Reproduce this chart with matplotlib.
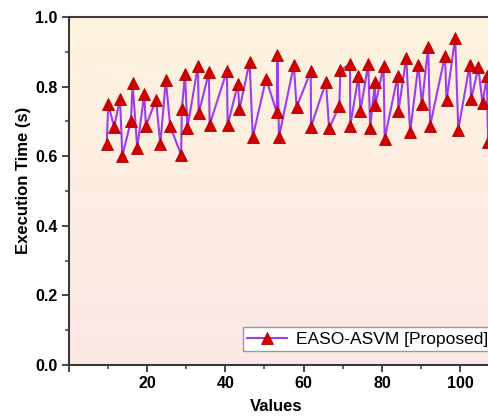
import numpy as np
import matplotlib
matplotlib.use('Agg')
import matplotlib.pyplot as plt
from matplotlib.colors import LinearSegmentedColormap
from matplotlib.ticker import MultipleLocator, FuncFormatter

# Execution time of EASO-ASVM for each tested value.
values = [9.7, 10.1, 11.6, 13.1, 13.7, 15.9, 16.3, 17.5, 19.3, 19.7,
          22.3, 23.4, 24.8, 25.9, 28.7, 28.9, 29.7, 30.3, 33.0, 33.2,
          35.8, 36.0, 40.4, 40.6, 43.2, 43.6, 46.2, 47.0, 50.4, 53.1,
          53.3, 53.7, 57.5, 58.2, 61.8, 61.9, 65.7, 66.5, 69.1, 69.4,
          71.85, 71.9, 74.0, 74.5, 76.5, 77.0, 78.2, 78.3, 80.4, 80.7,
          84.0, 84.2, 86.2, 87.2, 89.3, 90.2, 91.8, 92.3, 96.1, 96.5,
          98.7, 99.5, 102.4, 102.8, 104.6, 105.7, 106.8, 107.1]
exec_time = [0.634, 0.749, 0.684, 0.764, 0.602, 0.701, 0.809, 0.625, 0.778, 0.687,
             0.762, 0.634, 0.820, 0.687, 0.604, 0.735, 0.837, 0.680, 0.860, 0.723,
             0.841, 0.691, 0.845, 0.689, 0.808, 0.735, 0.871, 0.655, 0.823, 0.727,
             0.890, 0.655, 0.862, 0.741, 0.844, 0.685, 0.814, 0.680, 0.744, 0.847,
             0.865, 0.687, 0.830, 0.730, 0.865, 0.682, 0.812, 0.746, 0.859, 0.650,
             0.830, 0.729, 0.883, 0.669, 0.863, 0.749, 0.915, 0.688, 0.889, 0.761,
             0.941, 0.676, 0.863, 0.764, 0.855, 0.752, 0.831, 0.640]
series_label = 'EASO-ASVM [Proposed]'

plt.rcParams['font.family'] = ['Liberation Sans', 'DejaVu Sans']

fig = plt.figure(figsize=(4.88, 4.19), dpi=100)
# the plot area runs past the right edge of the figure on purpose
ax = fig.add_axes([0.1408, 0.1289, 0.8826, 0.8305])

ax.set_xlim(0, 110)
ax.set_ylim(0, 1.0)

# vertical background gradient, beige at the top to pale pink at the bottom
grad_cmap = LinearSegmentedColormap.from_list('bg', ['#fde8e6', '#fdf3de'])
grad = np.linspace(0, 1, 256).reshape(-1, 1)
ax.imshow(grad, cmap=grad_cmap, aspect='auto', origin='lower',
          extent=[0, 110, 0, 1.0], zorder=0)

ax.plot(values, exec_time, color='#9d3ee8', lw=1.5, marker='^', ms=8,
        mfc='#d10000', mec='#b00000', mew=0.6, label=series_label, zorder=3)

ax.xaxis.set_major_locator(MultipleLocator(20))
ax.xaxis.set_minor_locator(MultipleLocator(10))
ax.xaxis.set_major_formatter(FuncFormatter(lambda v, p: '' if v == 0 else '%d' % v))
ax.yaxis.set_major_locator(MultipleLocator(0.2))
ax.yaxis.set_minor_locator(MultipleLocator(0.1))
ax.yaxis.set_major_formatter(FuncFormatter(lambda v, p: '%.1f' % v))

for s in ax.spines.values():
    s.set_linewidth(1.5)
    s.set_color('#3a3a3a')
ax.tick_params(which='major', direction='out', length=5, width=1.3, color='#3a3a3a',
               labelsize=11.5, pad=3)
ax.tick_params(which='minor', direction='out', length=3, width=1.1, color='#3a3a3a')
for lbl in ax.get_xticklabels() + ax.get_yticklabels():
    lbl.set_fontweight('bold')

ax.set_xlabel('Values', fontsize=12, fontweight='bold')
ax.set_ylabel('Execution Time (s)', fontsize=12, fontweight='bold')
ax.xaxis.set_label_coords(0.481, -0.098)
ax.yaxis.set_label_coords(-0.088, 0.53)

leg = ax.legend(loc='lower right', bbox_to_anchor=(0.983, 0.04), borderaxespad=0,
                fontsize=12.5, fancybox=False, framealpha=1, edgecolor='#999999',
                handlelength=2.3, borderpad=0.25, handletextpad=0.5)
leg.get_frame().set_linewidth(1.0)

fig.savefig('out.png', dpi=100)
